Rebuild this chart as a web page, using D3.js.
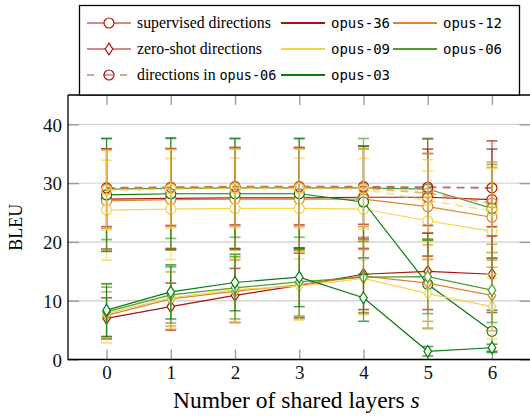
<!DOCTYPE html>
<html>
<head>
<meta charset="utf-8">
<script src="https://cdn.jsdelivr.net/npm/d3@7"></script>
<style>
  body { margin: 0; background: #fff; }
  svg { display: block; }
</style>
</head>
<body>
<svg id="chart" width="530" height="417"></svg>
<script>
var svg = d3.select('#chart'),
    width = +svg.attr('width'),
    height = +svg.attr('height');
var serif = '"Liberation Serif", "DejaVu Serif", serif',
    mono = '"DejaVu Sans Mono", "Liberation Mono", monospace';

// layers shared (x values)
var layers = [0, 1, 2, 3, 4, 5, 6];
var yTicks = [0, 10, 20, 30, 40];
var models = ['opus-36', 'opus-12', 'opus-09', 'opus-06', 'opus-03'];
var colors = ['#a8150f', '#d8862c', '#f5d44a', '#4f9c2f', '#087a12'];

// supervised directions (mean BLEU)
var sup36 = [27.3, 27.4, 27.5, 27.5, 27.6, 27.6, 27.2];
var sup12 = [27.0, 27.2, 27.3, 27.3, 27.3, 26.0, 24.2];
var sup09 = [25.4, 25.6, 25.7, 25.7, 25.6, 23.6, 21.8];
var sup06 = [29.0, 29.1, 29.2, 29.2, 29.2, 29.0, 25.7];
var sup03 = [28.0, 28.2, 28.2, 28.2, 26.8, 12.8, 4.8];
// std dev, supervised
var supSd36 = [8.5, 8.5, 8.6, 8.6, 8.7, 10.0, 10.0];
var supSd12 = [8.6, 8.6, 8.7, 8.7, 8.6, 9.0, 8.5];
var supSd09 = [8.5, 8.6, 8.6, 8.6, 8.6, 8.5, 8.0];
var supSd06 = [8.6, 8.5, 8.4, 8.4, 8.4, 8.5, 7.5];
var supSd03 = [9.6, 9.5, 9.4, 9.4, 9.5, 7.5, 3.6];

// zero-shot directions
var zs36 = [7.0, 9.0, 10.9, 12.6, 14.5, 15.0, 14.5];
var zs12 = [7.5, 10.3, 11.6, 12.7, 14.2, 13.0, 10.9];
var zs09 = [7.8, 10.5, 11.9, 12.5, 13.8, 11.2, 9.0];
var zs06 = [8.1, 11.0, 12.2, 13.2, 14.0, 14.1, 11.8];
var zs03 = [8.4, 11.5, 13.1, 14.0, 10.5, 1.4, 2.0];
var zsSd36 = [3.5, 4.0, 4.6, 5.5, 6.0, 6.5, 6.5];
var zsSd12 = [4.0, 4.6, 5.3, 5.8, 6.2, 6.5, 6.0];
var zsSd09 = [5.0, 5.2, 5.5, 5.8, 6.2, 6.0, 5.5];
var zsSd06 = [4.2, 4.8, 5.3, 5.8, 6.1, 6.3, 5.5];
var zsSd03 = [4.5, 4.6, 4.8, 5.0, 4.0, 0.8, 0.6];

// directions in opus-06 (only for the larger models)
var in06_36 = [29.2, 29.3, 29.4, 29.4, 29.4, 29.3, 29.2];
var in06_12 = [29.0, 29.2, 29.3, 29.3, 29.2, 28.3, 26.6];
var in06_09 = [28.8, 29.0, 29.1, 29.1, 29.0, 27.0, 25.3];
var in06Sd36 = [6.6, 6.5, 6.5, 6.5, 6.4, 6.5, 6.6];
var in06Sd12 = [6.7, 6.6, 6.6, 6.6, 6.6, 6.8, 7.0];
var in06Sd09 = [6.8, 6.7, 6.7, 6.7, 6.8, 7.0, 7.2];

var margin = { left: 68, top: 95, right: 530.5, bottom: 359.5 };

var x = d3.scaleLinear().domain([-0.6, 6.6]).range([margin.left, margin.right]);
var y = d3.scaleLinear().domain([0, 45]).range([margin.bottom, margin.top]);

// grid lines
svg.append('g').selectAll('line')
    .data(yTicks)
    .enter().append('line')
    .attr('x1', margin.left).attr('x2', width)
    .attr('y1', function (d) { return y(d); })
    .attr('y2', function (d) { return y(d); })
    .attr('stroke', '#d4d4d4')
    .attr('stroke-width', 1.4);

// axes, ticks inward
var axB = svg.append('g').attr('transform', 'translate(0,' + margin.bottom + ')')
    .call(d3.axisBottom(x).tickValues(layers).tickSize(-10).tickPadding(6).tickFormat(d3.format('d')));
var axT = svg.append('g').attr('transform', 'translate(0,' + margin.top + ')')
    .call(d3.axisTop(x).tickValues(layers).tickSize(-10).tickFormat(''));
var axL = svg.append('g').attr('transform', 'translate(' + margin.left + ',0)')
    .call(d3.axisLeft(y).tickValues(yTicks).tickSize(-11).tickPadding(6));
var axR = svg.append('g').attr('transform', 'translate(' + margin.right + ',0)')
    .call(d3.axisRight(y).tickValues(yTicks).tickSize(-11).tickFormat(''));

[axB, axT, axL, axR].forEach(function (a) {
	a.attr('font-family', serif).attr('font-size', 19);
	a.select('.domain').remove();
	a.selectAll('.tick line').attr('stroke', '#999').attr('stroke-width', 1.3);
	a.selectAll('text').attr('fill', '#111');
});
axL.selectAll('text').attr('dy', '0.35em');

// frame
svg.append('path')
    .attr('d', 'M' + margin.left + ',' + margin.top + 'V' + margin.bottom + 'H' + margin.right)
    .attr('fill', 'none').attr('stroke', '#000').attr('stroke-width', 1.3);
svg.append('line')
    .attr('x1', margin.left).attr('x2', margin.right)
    .attr('y1', margin.top).attr('y2', margin.top)
    .attr('stroke', '#000').attr('stroke-width', 1.3);

// series
var series = [
	{ kind: 'sup', m: 0, v: sup36, sd: supSd36 },
	{ kind: 'sup', m: 1, v: sup12, sd: supSd12 },
	{ kind: 'sup', m: 2, v: sup09, sd: supSd09 },
	{ kind: 'sup', m: 3, v: sup06, sd: supSd06 },
	{ kind: 'sup', m: 4, v: sup03, sd: supSd03 },
	{ kind: 'in06', m: 0, v: in06_36, sd: in06Sd36 },
	{ kind: 'in06', m: 1, v: in06_12, sd: in06Sd12 },
	{ kind: 'in06', m: 2, v: in06_09, sd: in06Sd09 },
	{ kind: 'zs', m: 0, v: zs36, sd: zsSd36 },
	{ kind: 'zs', m: 1, v: zs12, sd: zsSd12 },
	{ kind: 'zs', m: 2, v: zs09, sd: zsSd09 },
	{ kind: 'zs', m: 3, v: zs06, sd: zsSd06 },
	{ kind: 'zs', m: 4, v: zs03, sd: zsSd03 }
];

var plot = svg.append('g');
var line = d3.line().x(function (d) { return x(d.x); }).y(function (d) { return y(d.y); });
var diamond = 'M0,-5.8L3.8,0L0,5.8L-3.8,0Z';

series.forEach(function (s) {
	var col = colors[s.m];
	var pts = layers.map(function (l, i) { return { x: l, y: s.v[i], sd: s.sd[i] }; });
	var g = plot.append('g');
	// error bars
	var eb = g.selectAll('.eb').data(pts).enter().append('g')
	    .attr('stroke', col).attr('stroke-width', 1.2).attr('opacity', 0.7);
	eb.append('line')
	    .attr('x1', function (d) { return x(d.x); }).attr('x2', function (d) { return x(d.x); })
	    .attr('y1', function (d) { return y(d.y - d.sd); }).attr('y2', function (d) { return y(d.y + d.sd); });
	[1, -1].forEach(function (sg) {
		eb.append('line')
		    .attr('x1', function (d) { return x(d.x) - 5.5; }).attr('x2', function (d) { return x(d.x) + 5.5; })
		    .attr('y1', function (d) { return y(d.y + sg * d.sd); })
		    .attr('y2', function (d) { return y(d.y + sg * d.sd); })
		    .attr('stroke-width', 1.6);
	});
	// line
	g.append('path').datum(pts)
	    .attr('d', line)
	    .attr('fill', 'none')
	    .attr('stroke', col)
	    .attr('stroke-width', s.kind == 'in06' ? 1.8 : 1.2)
	    .attr('stroke-dasharray', s.kind == 'in06' ? '8,6' : null)
	    .attr('opacity', s.kind == 'in06' ? 0.65 : 1);
	// markers
	if (s.kind == 'zs') {
		g.selectAll('.mk').data(pts).enter().append('path')
		    .attr('d', diamond)
		    .attr('transform', function (d) { return 'translate(' + x(d.x) + ',' + y(d.y) + ')'; })
		    .attr('fill', '#fff').attr('stroke', col).attr('stroke-width', 1.2);
	} else {
		g.selectAll('.mk').data(pts).enter().append('circle')
		    .attr('cx', function (d) { return x(d.x); })
		    .attr('cy', function (d) { return y(d.y); })
		    .attr('r', 5)
		    .attr('fill', s.kind == 'in06' ? 'none' : '#fff')
		    .attr('stroke', col).attr('stroke-width', 1.2);
	}
});

// axis labels
svg.append('text')
    .attr('transform', 'translate(22,' + ((margin.top + margin.bottom) / 2) + ') rotate(-90)')
    .attr('text-anchor', 'middle')
    .attr('font-family', serif)
    .attr('font-size', 18)
    .text('BLEU');
var xl = svg.append('text')
    .attr('x', (margin.left + margin.right) / 2 - 3).attr('y', 408)
    .attr('text-anchor', 'middle')
    .attr('font-family', serif)
    .attr('font-size', 23.5);
xl.append('tspan').text('Number of shared layers ');
xl.append('tspan').attr('font-style', 'italic').text('s');

// legend
var leg = svg.append('g');
leg.append('rect')
    .attr('x', 79.5).attr('y', 5.5).attr('width', 440).attr('height', 89.5)
    .attr('fill', '#fff').attr('stroke', '#000').attr('stroke-width', 1.3);
var rowsY = [23, 49, 75];
var kindLbl = ['supervised directions', 'zero-shot directions'];
var red = colors[0];
rowsY.forEach(function (ry, i) {
	leg.append('line')
	    .attr('x1', 87).attr('x2', i == 2 ? 127 : 131).attr('y1', ry).attr('y2', ry)
	    .attr('stroke', red).attr('stroke-width', 1.2)
	    .attr('opacity', i == 2 ? 0.8 : 1)
	    .attr('stroke-dasharray', i == 2 ? '7,9,10,7,7' : null);
	if (i == 1) {
		leg.append('path').attr('d', diamond).attr('transform', 'translate(109,' + ry + ')')
		    .attr('fill', '#fff').attr('stroke', red).attr('stroke-width', 1.2);
	} else {
		leg.append('circle').attr('cx', 109).attr('cy', ry).attr('r', 5)
		    .attr('fill', i == 2 ? 'none' : '#fff').attr('stroke', red).attr('stroke-width', 1.2);
	}
	var t = leg.append('text').attr('x', 137).attr('y', ry + 5)
	    .attr('font-family', serif).attr('font-size', 15.8);
	if (i < 2) {
		t.text(kindLbl[i]);
	} else {
		t.append('tspan').text('directions in ');
		t.append('tspan').attr('font-family', mono).attr('font-size', 13.5).text('opus-06');
	}
});
// model entries
var modelPos = [[281, 0], [393, 0], [281, 1], [393, 1], [281, 2]];
models.forEach(function (m, i) {
	var px = modelPos[i][0], ry = rowsY[modelPos[i][1]];
	leg.append('line')
	    .attr('x1', px).attr('x2', px + 44).attr('y1', ry).attr('y2', ry)
	    .attr('stroke', colors[i]).attr('stroke-width', 2);
	leg.append('text')
	    .attr('x', px + 50).attr('y', ry + 5)
	    .attr('font-family', mono)
	    .attr('font-size', 14)
	    .text(m);
});
</script>
</body>
</html>
